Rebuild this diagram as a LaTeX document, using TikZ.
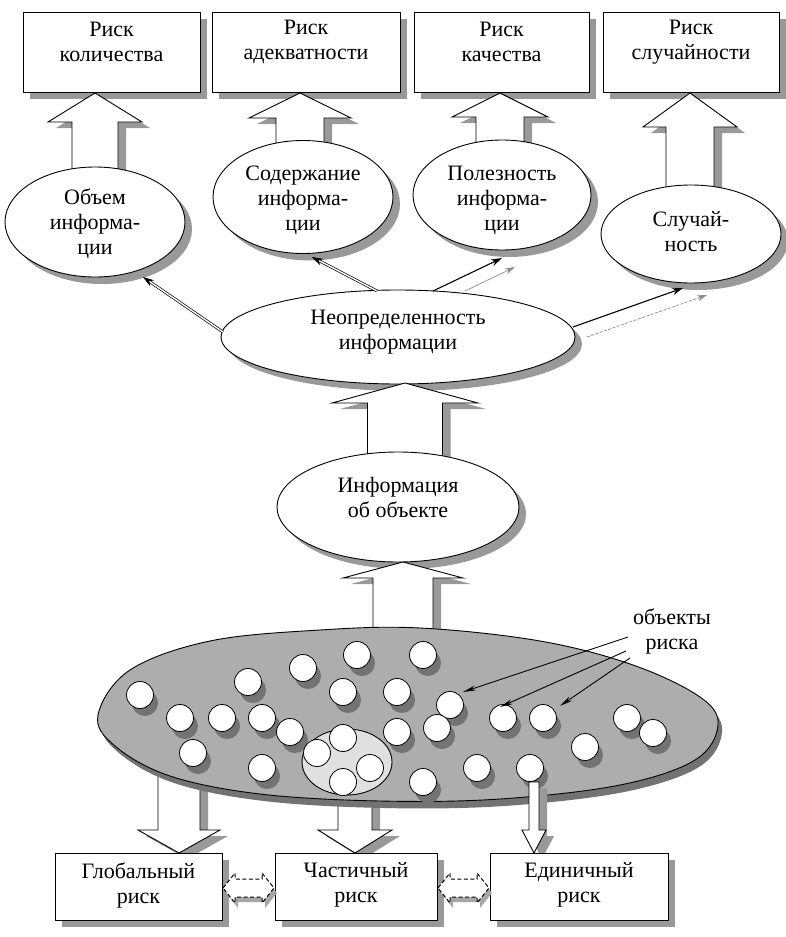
\documentclass[tikz,border=0pt]{standalone}
\usepackage{fontspec}
\setmainfont{Liberation Serif}
\usetikzlibrary{arrows.meta,shapes.geometric,shadows}
\newcommand\blockar[7]{\path[#1] ({#2-#6},#3) -- ({#2-#6},#4) -- ({#2-#7},#4) -- (#2,#5) -- ({#2+#7},#4) -- ({#2+#6},#4) -- ({#2+#6},#3) -- cycle;}
\newcommand\dashar[2]{% #1 left x, #2 right x
  \path[dshshd] ({#1+1},888) -- ({#1+13},873) -- ({#1+13},879) -- ({#2-13},879) -- ({#2-13},873) -- ({#2-1},888) -- ({#2-13},903) -- ({#2-13},897) -- ({#1+13},897) -- ({#1+13},903) -- cycle;
  \path[dsh] ({#1+1},888) -- ({#1+13},873) -- ({#1+13},879) -- ({#2-13},879) -- ({#2-13},873) -- ({#2-1},888) -- ({#2-13},903) -- ({#2-13},897) -- ({#1+13},897) -- ({#1+13},903) -- cycle;}
\begin{document}
\begin{tikzpicture}[x=1pt,y=-1pt,
 txt/.style={font=\fontsize{22}{25}\selectfont, align=center, inner sep=0pt},
 rbox/.style={draw, line width=0.9pt, fill=white, inner sep=0pt},
 ov/.style={draw, line width=0.9pt, fill=white, ellipse, inner sep=0pt},
 shad/.style={general shadow={shadow xshift=7pt, shadow yshift=-7pt, fill=black!40}},
 barr/.style={draw, line width=0.9pt, fill=white, line join=miter},
 bshd/.style={fill=black!40, shift={(8,6)}},
 dbl/.style={draw, line width=0.7pt, double=white, double distance=1.4pt, -{Stealth[length=11pt,width=7pt]}},
 sol/.style={line width=1.1pt, -{Stealth[length=11pt,width=7pt]}},
 gry/.style={black!45, line width=0.7pt, -{Stealth[length=10pt,width=6pt]}},
 thinar/.style={line width=0.9pt, -{Stealth[length=13pt,width=5pt]}},
 dsh/.style={draw, line width=1pt, fill=white, dash pattern=on 4pt off 2.5pt},
 dshshd/.style={fill=black!35, shift={(3,5)}},
 circ/.style={circle, draw, fill=white, line width=0.8pt, minimum size=27pt, inner sep=0pt}
]
\fill[white] (0,0) rectangle (786,937);
\useasboundingbox (0,0) rectangle (786,937);

% top boxes
\node[rbox, shad, minimum width=177pt, minimum height=80pt] (rq) at (111.5,52) {};
\node[txt] (rqt) at (111.5,42) {Риск\\количества};
\node[rbox, shad, minimum width=188pt, minimum height=80pt] (ra) at (306,52) {};
\node[txt] (rat) at (306,42) {Риск\\адекватности};
\node[rbox, shad, minimum width=175pt, minimum height=80pt] (rk) at (501.5,52) {};
\node[txt] (rkt) at (501.5,42) {Риск\\качества};
\node[rbox, shad, minimum width=176pt, minimum height=80pt] (rs) at (691,52) {};
\node[txt] (rst) at (691,42) {Риск\\случайности};

% up arrows to top boxes
\blockar{bshd}{95}{180}{122}{93}{23}{47}
\blockar{barr}{95}{180}{122}{93}{23}{47}
\blockar{bshd}{300}{150}{118}{93}{24}{51}
\blockar{barr}{300}{150}{118}{93}{24}{51}
\blockar{bshd}{500}{150}{117}{93}{24}{48}
\blockar{barr}{500}{150}{117}{93}{24}{48}
\blockar{bshd}{690}{195}{127}{93}{24}{47}
\blockar{barr}{690}{195}{127}{93}{24}{47}

% top ellipses
\node[ov, shad, minimum width=180pt, minimum height=110pt] (e1) at (95,222) {};
\node[txt] (e1t) at (95,224) {Объем\\информа-\\ции};
\node[ov, shad, minimum width=180pt, minimum height=113pt] (e2) at (303,197) {};
\node[txt] (e2t) at (303,200) {Содержание\\информа-\\ции};
\node[ov, shad, minimum width=178pt, minimum height=110pt] (e3) at (502,195) {};
\node[txt] (e3t) at (502,200) {Полезность\\информа-\\ции};
\node[ov, shad, minimum width=180pt, minimum height=98pt] (e4) at (691,234) {};
\node[txt] (e4t) at (691,232) {Случай-\\ность};

% middle ellipse
\node[ov, shad, minimum width=354pt, minimum height=94pt] (mid) at (398,337) {};
\node[txt] (midt) at (398,332) {Неопределенность\\информации};

% thin arrows from middle ellipse
\coordinate (s1) at (223,332); \coordinate (t1) at (143,277);
\coordinate (s2) at (377,291); \coordinate (t2) at (312,257);
\coordinate (s3) at (433,291); \coordinate (t3) at (502,258);
\coordinate (g3) at (465,291); \coordinate (h3) at (515,267);
\coordinate (s4) at (573,327); \coordinate (t4) at (683,288);
\coordinate (g4) at (587,337); \coordinate (h4) at (707,295);
\draw[dbl] (s1) -- (t1);
\draw[dbl] (s2) -- (t2);
\draw[sol] (s3) -- (t3);
\draw[gry] (g3) -- (h3);
\draw[sol] (s4) -- (t4);
\draw[gry, dash pattern=on 3pt off 1.5pt] (g4) -- (h4);

% arrow info -> middle
\blockar{bshd}{405}{470}{403}{383}{37.5}{73}
\blockar{barr}{405}{470}{403}{383}{37.5}{73}

% info ellipse
\node[ov, shad, minimum width=242pt, minimum height=110pt] (inf) at (398,507) {};
\node[txt] (inft) at (398,497) {Информация\\об объекте};

% arrow big ellipse -> info
\blockar{bshd}{403}{645}{578}{562}{30}{60}
\blockar{barr}{403}{645}{578}{562}{30}{60}

% down arrows (behind big ellipse)
\blockar{bshd}{179}{770}{830}{853}{21}{41}
\blockar{barr}{179}{770}{830}{853}{21}{41}
\blockar{bshd}{355}{780}{830}{853}{17}{37}
\blockar{barr}{355}{780}{830}{853}{17}{37}

% big ellipse
\fill[black!55, shift={(4,7)}] plot[smooth cycle, tension=0.6] coordinates {(98,715) (130,670) (210,641) (320,630) (420,628) (540,641) (633,665) (700,697) (718,725) (695,760) (620,785) (500,799) (380,801) (260,794) (170,776) (115,746)};
\draw[line width=0.9pt, fill=black!32] plot[smooth cycle, tension=0.6] coordinates {(98,715) (130,670) (210,641) (320,630) (420,628) (540,641) (633,665) (700,697) (718,725) (695,760) (620,785) (500,799) (380,801) (260,794) (170,776) (115,746)};

% circles
\foreach \cx/\cy in {140/695,180/718,222/718,262/718,248/682,303/668,357/655,343/692,397/692,290/732,193/753,262/768,397/732,423/655,450/705,437/728,503/718,543/718,585/747,627/718,653/733,477/768,530/768,423/782}
  \fill[black!55] (\cx+5,\cy+8) circle[radius=13pt];
\node[ellipse, draw, line width=0.9pt, fill=black!12, minimum width=90pt, minimum height=66pt, inner sep=0pt] (inner) at (347,762) {};
\foreach \cx/\cy [count=\i] in {140/695,180/718,222/718,262/718,248/682,303/668,357/655,343/692,397/692,290/732,193/753,262/768,397/732,423/655,450/705,437/728,503/718,543/718,585/747,627/718,653/733,477/768,530/768,423/782}
  \node[circ] (c\i) at (\cx,\cy) {};
\foreach \cx/\cy [count=\i] in {343/738,317/753,370/768,343/782}
  \node[circ] (ic\i) at (\cx,\cy) {};

% objects label
\node[txt] (obj) at (672,631) {объекты\\риска};
\coordinate (o1) at (628,637); \coordinate (p1) at (463,692);
\coordinate (o2) at (626,651); \coordinate (p2) at (500,707);
\coordinate (o3) at (630,658); \coordinate (p3) at (560,706);
\draw[thinar] (o1) -- (p1);
\draw[thinar] (o2) -- (p2);
\draw[thinar] (o3) -- (p3);

% single arrow
\blockar{bshd}{534}{782}{830}{853}{5}{12}
\blockar{barr}{534}{782}{830}{853}{5}{12}

% bottom boxes
\node[rbox, shad, minimum width=167pt, minimum height=67pt] (bg) at (138.5,886.5) {};
\node[txt] (bgt) at (138.5,885) {Глобальный\\риск};
\node[rbox, shad, minimum width=162pt, minimum height=67pt] (bc) at (356,886.5) {};
\node[txt] (bct) at (356,885) {Частичный\\риск};
\node[rbox, shad, minimum width=178pt, minimum height=67pt] (be) at (579,886.5) {};
\node[txt] (bet) at (579,885) {Единичный\\риск};

\dashar{222}{275}
\dashar{437}{490}
\end{tikzpicture}
\end{document}
